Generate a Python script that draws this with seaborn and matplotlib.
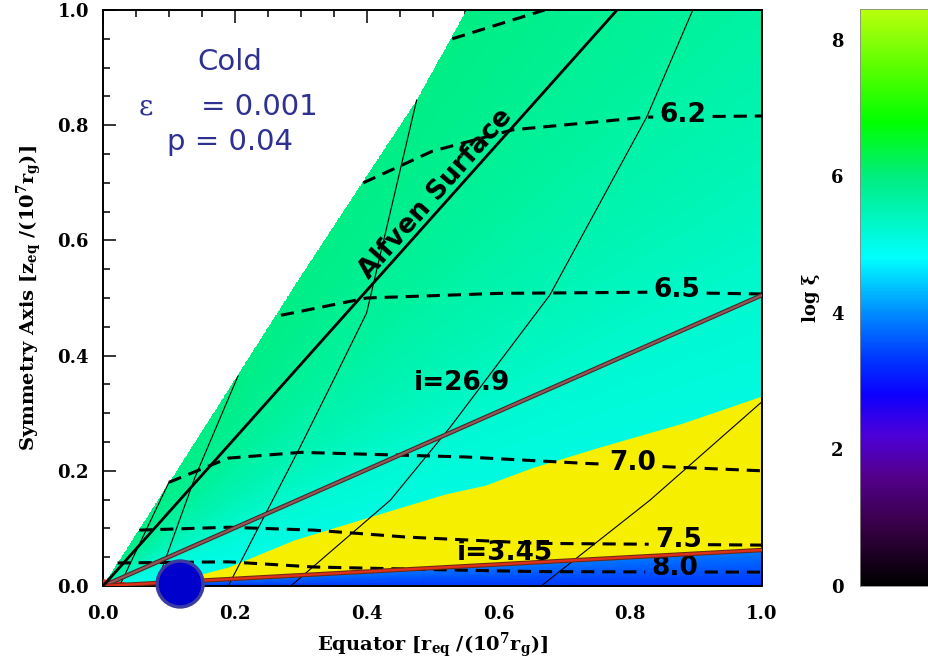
import numpy as np
import matplotlib
matplotlib.use("Agg")
import matplotlib.pyplot as plt
import seaborn as sns
from matplotlib.colors import LinearSegmentedColormap, Normalize
from matplotlib.patches import Ellipse, Polygon

# ---------------- data ----------------
# left edge of the computed wedge (white outside)
edge_x = [0.0, 0.103, 0.299, 0.476, 0.552]
edge_y = [0.0, 0.184, 0.536, 0.844, 1.0]

# log xi shading of the wedge versus polar angle (deg)
shade_angle = [15, 25, 35, 48, 62]
shade_logxi = [5.05, 5.2, 5.45, 5.72, 5.98]
blue_logxi = [3.3, 3.85]          # bottom / top of the band below i=3.45

# upper edge of the yellow band
yellow_x = [0.10, 0.19, 0.29, 0.39, 0.52, 0.58, 0.65, 0.75, 0.88, 1.0]
yellow_y = [0.006, 0.033, 0.08, 0.115, 0.16, 0.175, 0.205, 0.24, 0.283, 0.33]

# straight lines from the origin
alfven_x = [0.0, 0.78]
alfven_y = [0.0, 1.0]
i269_x = [0.0, 1.0]
i269_y = [0.0, 0.505]
i345_x = [0.0, 1.0]
i345_y = [0.0, 0.0625]

# thin solid field lines
thin_lines = {
    "t0": ([0.025, 0.10], [0.0, 0.18]),
    "t1": ([0.08, 0.14, 0.205], [0.0, 0.19, 0.365]),
    "t2": ([0.19, 0.299, 0.35, 0.40, 0.476], [0.0, 0.241, 0.358, 0.474, 0.844]),
    "t3": ([0.285, 0.436, 0.527, 0.678, 0.825, 0.895], [0.0, 0.149, 0.276, 0.505, 0.814, 1.0]),
    "t4": ([0.665, 0.830, 0.998], [0.0, 0.149, 0.318]),
}

# dashed contours
c60_x = [0.53, 0.60, 0.67]
c60_y = [0.95, 0.975, 1.0]
c62_x = [0.395, 0.50, 0.622, 0.825, 1.0]
c62_y = [0.700, 0.755, 0.792, 0.814, 0.816]
c65_x = [0.27, 0.40, 0.60, 0.825, 1.0]
c65_y = [0.47, 0.50, 0.508, 0.51, 0.507]
c70_x = [0.10, 0.19, 0.30, 0.55, 0.73, 1.0]
c70_y = [0.18, 0.222, 0.232, 0.224, 0.213, 0.20]
c75_x = [0.055, 0.19, 0.32, 0.46, 0.66, 1.0]
c75_y = [0.097, 0.102, 0.097, 0.085, 0.074, 0.071]
c80_x = [0.022, 0.19, 0.32, 0.52, 0.66, 1.0]
c80_y = [0.04, 0.042, 0.033, 0.028, 0.025, 0.024]
contour_labels = ["6.2", "6.5", "7.0", "7.5", "8.0"]
label_x = [0.88, 0.871, 0.804, 0.873, 0.868]
label_y = [0.818, 0.514, 0.214, 0.080, 0.031]

# colour bar
cbar_ticks = [0, 2, 4, 6, 8]
cbar_max = 8.45
cmap_nodes = [0.0, 0.8, 1.6, 2.2, 2.8, 3.3, 4.0, 4.8, 6.0, 6.8, 7.6, 8.45]
cmap_cols = [(0, 0, 0), (0.2, 0, 0.25), (0.33, 0, 0.55), (0.3, 0, 0.85), (0.05, 0, 1),
             (0, 0.2, 1), (0, 0.55, 1), (0, 1, 1), (0, 0.93, 0.5), (0, 1, 0),
             (0.35, 1, 0), (0.72, 1, 0.05)]

# ---------------- styling ----------------
sns.set_style("ticks")
plt.rcParams["font.family"] = ["DejaVu Serif"]
plt.rcParams["mathtext.fontset"] = "dejavuserif"
plt.rcParams["mathtext.default"] = "bf"
plt.rcParams["text.color"] = "black"
plt.rcParams["axes.labelcolor"] = "black"
plt.rcParams["xtick.color"] = "black"
plt.rcParams["ytick.color"] = "black"

fig = plt.figure(figsize=(9.29, 6.65), dpi=100)
ax = fig.add_axes([103 / 929, 1 - 586 / 665, 659 / 929, 576 / 665])

cmap = LinearSegmentedColormap.from_list(
    "xi", list(zip(np.array(cmap_nodes) / cbar_max, cmap_cols)))
cmap.set_bad((1, 1, 1, 0))
norm = Normalize(0, cbar_max)

# background field
gx = np.linspace(0, 1, 1100)
gy = np.linspace(0, 1, 1100)
X, Y = np.meshgrid(gx, gy)
theta = np.degrees(np.arctan2(Y, X))
Z = np.interp(theta, shade_angle, shade_logxi)
low = np.interp(X, i345_x, i345_y)
frac = np.clip(Y / np.maximum(low, 1e-9), 0, 1)
Zb = blue_logxi[0] + (blue_logxi[1] - blue_logxi[0]) * frac
Z = np.where(Y < low, Zb, Z)
left = np.interp(Y, edge_y, edge_x)
Z = np.ma.masked_where(X < left, Z)
pcm = ax.pcolormesh(gx, gy, Z, cmap=cmap, norm=norm, shading="auto", zorder=1,
                    rasterized=True)

# yellow band
yb = np.array(yellow_y)
xb = np.array(yellow_x)
ax.fill_between(xb, np.interp(xb, i345_x, i345_y), yb, color="#f6f000",
                lw=0, zorder=2)
ax.add_patch(Polygon([(0, 0), (0.035, 0), (0.035, 0.006), (0, 0.012)],
                     closed=True, fc="#e8201a", ec="none", zorder=3))

# thin field lines
for name, (tx, ty) in thin_lines.items():
    sns.lineplot(x=tx, y=ty, ax=ax, color="black", lw=0.8, sort=False,
                 estimator=None, zorder=4)


def dashed(cx, cy, lab=None, lx=None, half=0.045):
    cx = np.asarray(cx, float)
    cy = np.asarray(cy, float)
    if lab is None:
        segs = [(cx, cy)]
    else:
        a, b = lx - half, lx + half
        m1 = cx < a
        m2 = cx > b
        s1x = np.append(cx[m1], a)
        s1y = np.append(cy[m1], np.interp(a, cx, cy))
        s2x = np.insert(cx[m2], 0, b)
        s2y = np.insert(cy[m2], 0, np.interp(b, cx, cy))
        segs = [(s1x, s1y), (s2x, s2y)]
    for sx, sy in segs:
        ln, = ax.plot(sx, sy, color="black", lw=2.2, zorder=5)
        ln.set_dashes((4.3, 2.6))


dashed(c60_x, c60_y)
cont = [(c62_x, c62_y), (c65_x, c65_y), (c70_x, c70_y), (c75_x, c75_y), (c80_x, c80_y)]
for (cx, cy), lab, lx, ly in zip(cont, contour_labels, label_x, label_y):
    dashed(cx, cy, lab, lx)
    ax.text(lx, ly, lab, fontsize=19, fontweight="bold", family="DejaVu Sans",
            ha="center", va="center", zorder=6, color="black")

# inclination lines
ax.plot(i269_x, i269_y, color="#4a2626", lw=3.2, zorder=6, solid_capstyle="butt")
ax.plot(i269_x, i269_y, color="#95585a", lw=1.6, zorder=6, solid_capstyle="butt")
ax.plot(i345_x, i345_y, color="#6a2a10", lw=3.2, zorder=6, solid_capstyle="butt")
ax.plot(i345_x, i345_y, color="#e0301a", lw=1.7, zorder=6, solid_capstyle="butt")
sns.lineplot(x=alfven_x, y=alfven_y, ax=ax, color="black", lw=2.0, sort=False,
             estimator=None, zorder=6)

ax.text(0.545, 0.352, "i=26.9", fontsize=19, fontweight="bold", family="DejaVu Sans",
        ha="center", va="center", zorder=7, color="black")
ax.text(0.61, 0.058, "i=3.45", fontsize=19, fontweight="bold", family="DejaVu Sans",
        ha="center", va="center", zorder=7, color="black")
ax.text(0.505, 0.68, "Alfven Surface", fontsize=19, fontweight="bold",
        family="DejaVu Sans", ha="center", va="center", rotation=48.5,
        rotation_mode="anchor", zorder=7, color="black")

# annotation block
tc = "#2e3192"
ax.text(0.193, 0.896, "Cold", fontsize=21, color=tc, family="DejaVu Sans",
        ha="center", va="baseline")
ax.text(0.065, 0.818, "ε", fontsize=20, color=tc, family="DejaVu Serif",
        ha="center", va="baseline")
ax.text(0.238, 0.818, "= 0.001", fontsize=21, color=tc, family="DejaVu Sans",
        ha="center", va="baseline")
ax.text(0.193, 0.757, "p = 0.04", fontsize=21, color=tc, family="DejaVu Sans",
        ha="center", va="baseline")

# blue dot
ax.add_patch(Ellipse((0.117, 0.0035), 0.0698, 0.0799, fc="#0000cc", ec="#3c3ca0",
                     lw=2.4, clip_on=False, zorder=10))

# axes
ax.set_xlim(0, 1)
ax.set_ylim(0, 1)
ax.set_xticks(np.arange(0, 1.01, 0.2))
ax.set_yticks(np.arange(0, 1.01, 0.2))
ax.set_xticks(np.arange(0, 1.001, 0.05), minor=True)
ax.set_yticks(np.arange(0, 1.001, 0.05), minor=True)
ax.set_xticklabels([f"{v:.1f}" for v in np.arange(0, 1.01, 0.2)])
ax.set_yticklabels([f"{v:.1f}" for v in np.arange(0, 1.01, 0.2)])
ax.tick_params(which="both", direction="in", top=True, right=True, width=1.1,
               labelsize=13, colors="black")
ax.tick_params(which="major", length=9.5)
ax.tick_params(axis="y", which="major", pad=10)
ax.tick_params(axis="x", which="major", pad=14)
ax.tick_params(which="minor", length=5)
for lab in ax.get_xticklabels() + ax.get_yticklabels():
    lab.set_fontweight("bold")
for s in ax.spines.values():
    s.set_linewidth(1.4)
    s.set_color("black")
ax.set_xlabel(r"Equator $[r_{eq}\ /(10^{7}r_{g})]$", fontsize=14, fontweight="bold",
              labelpad=5)
ax.set_ylabel(r"Symmetry Axis $[z_{eq}\ /(10^{7}r_{g})]$", fontsize=14,
              fontweight="bold", labelpad=10)

# colour bar
cax = fig.add_axes([860 / 929, 1 - 586 / 665, 0.1, 577 / 665])
cb = fig.colorbar(pcm, cax=cax)
cb.outline.set_linewidth(0.6)
cb.outline.set_edgecolor("#888888")
cax.yaxis.set_ticks_position("left")
cax.yaxis.set_label_position("left")
cb.set_ticks(cbar_ticks)
cax.tick_params(axis="y", length=0, pad=12, labelsize=13)
for lab in cax.get_yticklabels():
    lab.set_fontweight("bold")
cb.set_label("log ξ", fontsize=13, fontweight="bold", labelpad=8)
cax.set_xticks(np.arange(0.03, 1.0, 0.06))
cax.tick_params(axis="x", top=True, bottom=False, labeltop=False, labelbottom=False,
                direction="in", length=4, width=0.6, color="#666666")

fig.savefig("out.png", dpi=100)
